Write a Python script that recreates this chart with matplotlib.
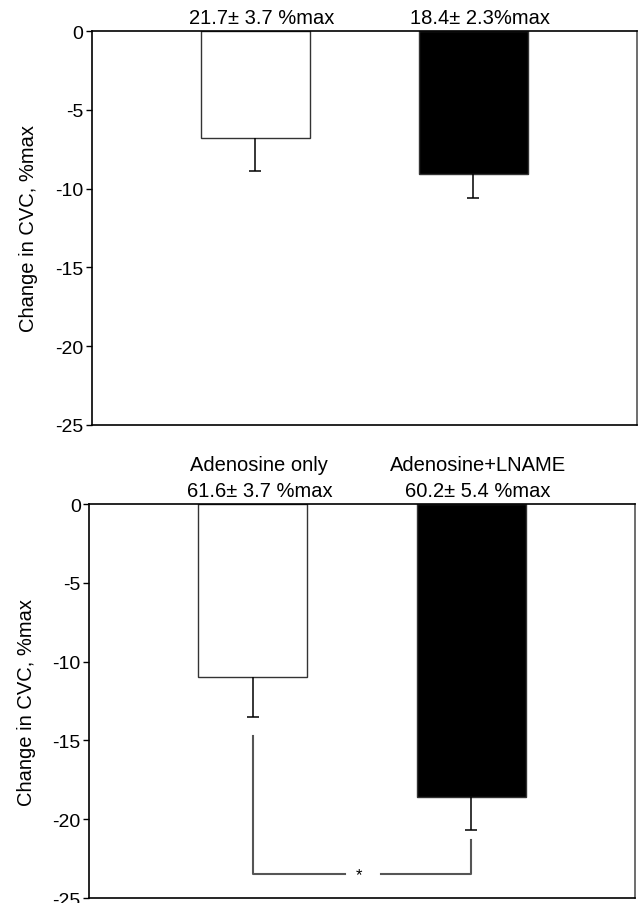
import matplotlib
matplotlib.use('Agg')
import matplotlib.pyplot as plt

plt.rcParams['font.family'] = ['Liberation Sans', 'DejaVu Sans']

# ---------------- data ----------------
xpos = [1.5, 3.5]
bar_colors = ['white', 'black']

top_means = [-6.8, -9.1]
top_errs = [2.1, 1.5]
top_labels = ['21.7\u00b1 3.7 %max', '18.4\u00b1 2.3%max']

bot_means = [-11.0, -18.6]
bot_errs = [2.5, 2.1]
bot_groups = ['Adenosine only', 'Adenosine+LNAME']
bot_labels = ['61.6\u00b1 3.7 %max', '60.2\u00b1 5.4 %max']

yticks = [0, -5, -10, -15, -20, -25]

# significance bracket (bottom panel)
brk_y = -23.5
brk_left_top = -14.7
brk_right_top = -21.3

fig = plt.figure(figsize=(6.39, 9.04), dpi=100)
ax1 = fig.add_axes([0.1435, 0.5288, 0.8534, 0.4358])
ax2 = fig.add_axes([0.1393, 0.0055, 0.8545, 0.4358])


def draw_panel(ax, means, errs):
    ax.bar(xpos, means, width=1.0, color=bar_colors, edgecolor='#333333',
           linewidth=1.0, zorder=2)
    for x, m, e in zip(xpos, means, errs):
        ax.vlines(x, m, m - e, color='black', linewidth=1.1, zorder=3)
        ax.hlines(m - e, x - 0.055, x + 0.055, color='black', linewidth=1.1, zorder=3)
    ax.set_xlim(0, 5)
    ax.set_ylim(-25, 0)
    ax.set_yticks(yticks)
    ax.set_yticklabels(['%g' % t for t in yticks])
    ax.set_xticks([])
    ax.tick_params(axis='y', direction='out', length=4, width=1, labelsize=14, pad=2)
    for s in ax.spines.values():
        s.set_linewidth(1.2)
    ax.spines['right'].set_color('#555555')
    ax.set_ylabel('Change in CVC, %max', fontsize=14.5, labelpad=12)


draw_panel(ax1, top_means, top_errs)
for x, t in zip(xpos, top_labels):
    ax1.annotate(t, xy=(x + 0.06, 1.0), xycoords=('data', 'axes fraction'),
                 xytext=(0, 3), textcoords='offset points',
                 ha='center', va='bottom', fontsize=14.5)

draw_panel(ax2, bot_means, bot_errs)
for x, g, t in zip(xpos, bot_groups, bot_labels):
    ax2.annotate(t, xy=(x + 0.06, 1.0), xycoords=('data', 'axes fraction'),
                 xytext=(0, 3), textcoords='offset points',
                 ha='center', va='bottom', fontsize=14.5)
    ax2.annotate(g, xy=(x + 0.06, 1.0), xycoords=('data', 'axes fraction'),
                 xytext=(0, 22), textcoords='offset points',
                 ha='center', va='bottom', fontsize=14.5)

# bracket with star
bc = '#555555'
ax2.plot([xpos[0], xpos[0], 2.34], [brk_left_top, brk_y, brk_y], color=bc, lw=1.5, zorder=1)
ax2.plot([2.67, xpos[1], xpos[1]], [brk_y, brk_y, brk_right_top], color=bc, lw=1.5, zorder=1)
ax2.text(2.47, brk_y, '*', ha='center', va='center', fontsize=12)

fig.savefig('out.png', dpi=100)
